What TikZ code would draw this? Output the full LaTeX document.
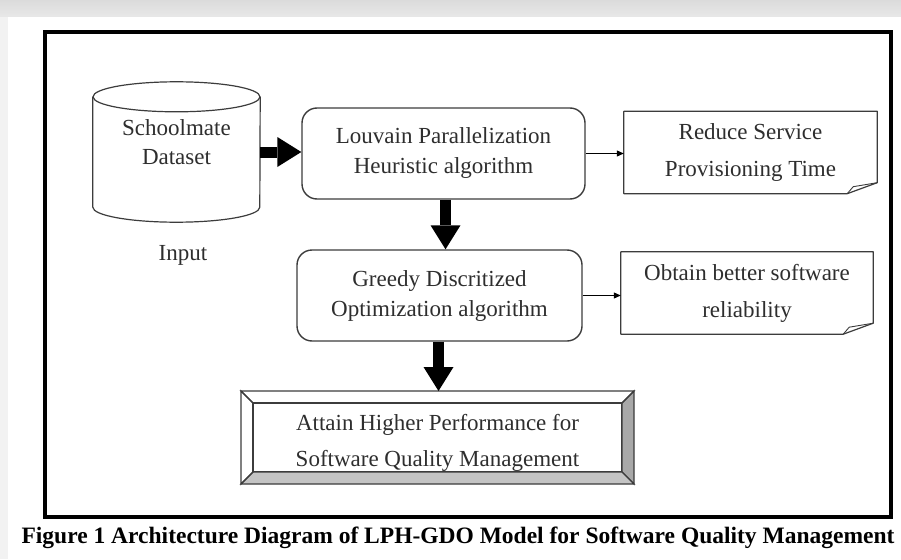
\documentclass[tikz,border=0pt]{standalone}
\usepackage{fontspec}
\setmainfont{Liberation Serif}
\usepackage{xcolor}
\usetikzlibrary{arrows.meta,calc}

\definecolor{lineg}{HTML}{3C3C3C}
\definecolor{textg}{HTML}{2E2E2E}
\definecolor{bevelr}{HTML}{A8A8A8}
\definecolor{bevelb}{HTML}{C4C4C4}

\begin{document}
\begin{tikzpicture}[
		x=1pt, y=-1pt,
		every node/.style = {align=center, text=textg,
			font=\fontsize{23}{30}\selectfont},
		algbox/.style = {draw=lineg, line width=1.4pt, rounded corners=15pt,
			minimum height=91pt, inner sep=0pt},
		notebox/.style = {minimum width=252pt, minimum height=82pt,
			inner sep=0pt, font=\fontsize{23}{37}\selectfont},
		noteline/.style = {draw=lineg, line width=1.2pt, line join=round},
		goalbox/.style = {draw=lineg, line width=1.2pt, minimum width=369pt,
			minimum height=69pt, inner sep=0pt, outer sep=12pt},
		bigarrow/.style = {line width=11pt,
			-{Triangle[length=24pt,width=30pt,line width=0pt]}},
		thinarrow/.style = {draw=black, line width=1pt,
			-{Triangle[length=7pt,width=6pt]}}]
		\useasboundingbox (0,0) rectangle (901,559);
		% page background
		\fill[white] (0,0) rectangle (901,559);
		\fill[top color=black!14, bottom color=black!9] (0,0) rectangle (901,17);
		\fill[black!5] (0,17) rectangle (8,559);
		\draw[line width=4pt] (45,32) rectangle (891,517);

		% input data base
		\node[minimum width=167pt, minimum height=140pt, inner sep=0pt,
			label={[yshift=10pt, font=\fontsize{23}{29}\selectfont]center:Schoolmate\\Dataset}]
			(data) at (176.5,152) {};
		\draw[lineg, line width=1.2pt] ([yshift=-15pt]data.north) ellipse [x radius=83.5pt, y radius=15pt];
		\draw[lineg, line width=1.2pt] ([yshift=-15pt]data.north west) -- ([yshift=15pt]data.south west)
			arc [start angle=180, end angle=360, x radius=83.5pt, y radius=15pt]
			-- ([yshift=-15pt]data.north east);
		\node (inputlbl) at (183,255) {Input};

		% algorithms
		\node[algbox, minimum width=283pt] (lph) at (443.5,153.5) {Louvain Parallelization\\Heuristic algorithm};
		\node[algbox, minimum width=285pt] (gdo) at (439.5,295.5) {Greedy Discritized\\Optimization algorithm};

		% results
		\node[notebox, minimum width=253pt] (rsp) at (750.5,152.5) {Reduce Service\\Provisioning Time};
		\node[notebox] (rel) at (747,293) {Obtain better software\\reliability};
		\foreach \n in {rsp,rel}
		{
			\draw[noteline] (\n.north west) -- (\n.north east) -- ([yshift=11pt]\n.south east)
				-- ([xshift=-30pt]\n.south east) -- (\n.south west) -- cycle;
			\draw[noteline, line width=0.9pt] ([xshift=-30pt]\n.south east) -- ([xshift=-24pt,yshift=7pt]\n.south east)
				-- ([yshift=11pt]\n.south east);
		}

		% final goal with bevel
		\node[goalbox, label={[yshift=-5pt, font=\fontsize{23}{36}\selectfont]center:Attain Higher Performance for\\Software Quality Management}]
			(goal) at (437.5,437.5) {};
		\draw[lineg, line width=1.2pt, fill=bevelr] (goal.north east) -- (goal.south east)
			-- ([shift={(-12pt,12pt)}]goal.south east) -- ([shift={(-12pt,-12pt)}]goal.north east) -- cycle;
		\draw[lineg, line width=1.2pt, fill=bevelb] (goal.south west) -- (goal.south east)
			-- ([shift={(-12pt,12pt)}]goal.south east) -- ([shift={(12pt,12pt)}]goal.south west) -- cycle;
		\draw[lineg, line width=1.2pt] (goal.north west) -- (goal.north east)
			-- ([shift={(-12pt,-12pt)}]goal.north east) -- ([shift={(12pt,-12pt)}]goal.north west) -- cycle;
		\draw[lineg, line width=1.2pt] (goal.north west) -- (goal.south west)
			-- ([shift={(12pt,12pt)}]goal.south west) -- ([shift={(12pt,-12pt)}]goal.north west) -- cycle;

		% connectors
		\draw[bigarrow] (data.east) -- (data.east -| lph.west);
		\draw[bigarrow] ([xshift=2pt]lph.south) -- ([xshift=2pt]lph.south |- gdo.north);
		\draw[bigarrow] ([xshift=-1pt]gdo.south) -- ([xshift=-1pt]gdo.south |- goal.north);
		\draw[thinarrow] (lph.east) -- (lph.east -| rsp.west);
		\draw[thinarrow] (gdo.east) -- (gdo.east -| rel.west);

		% caption
		\node[font=\bfseries\fontsize{23.5}{26}\selectfont, text=black] (cap) at (458,538)
			{Figure 1 Architecture Diagram of LPH-GDO Model for Software Quality Management};
		\end{tikzpicture}
\end{document}
